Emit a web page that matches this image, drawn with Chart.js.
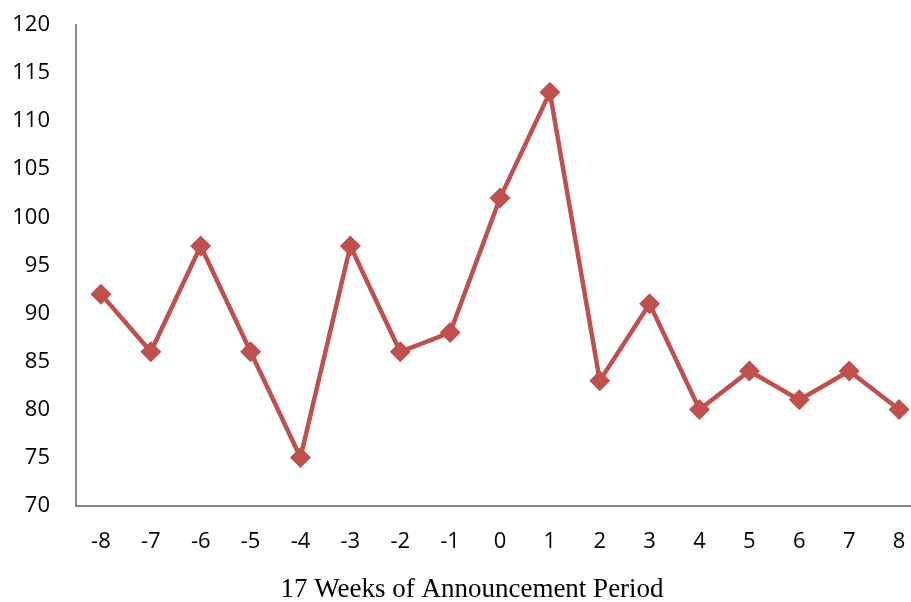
<!DOCTYPE html>
<html>
<head>
<meta charset="utf-8">
<script src="https://cdn.jsdelivr.net/npm/chart.js@4"></script>
<style>
  html, body { margin: 0; padding: 0; background: #fff; overflow: hidden; }
  #wrap { width: 911px; height: 602px; overflow: hidden; }
</style>
</head>
<body>
<div id="wrap"><canvas id="c" width="940" height="602"></canvas></div>
<script>
const weeks = ['-8','-7','-6','-5','-4','-3','-2','-1','0','1','2','3','4','5','6','7','8'];
const values = [92, 86, 97, 86, 75, 97, 86, 88, 102, 113, 83, 91, 80, 84, 81, 84, 80];
const yTicks = [70, 75, 80, 85, 90, 95, 100, 105, 110, 115, 120];
const xTitle = '17 Weeks of Announcement Period';

const red = '#C0504D';
const axisGray = '#868686';

// Axis title drawn below the tick labels
const bottomTitle = {
  id: 'bottomTitle',
  afterDraw(chart) {
    const { ctx } = chart;
    ctx.save();
    ctx.fillStyle = '#000';
    ctx.font = '27px "Liberation Serif"';
    ctx.textAlign = 'center';
    ctx.textBaseline = 'middle';
    ctx.fillText(xTitle, 472, 590);
    ctx.restore();
  }
};

new Chart(document.getElementById('c'), {
  type: 'line',
  data: {
    labels: weeks,
    datasets: [{
      data: values,
      borderColor: red,
      backgroundColor: red,
      borderWidth: 4.5,
      pointStyle: 'rectRot',
      pointRadius: 10.5,
      pointHoverRadius: 10.5,
      pointBorderWidth: 0,
      tension: 0
    }]
  },
  options: {
    responsive: false,
    animation: false,
    layout: { autoPadding: false, padding: { top: 25, left: 0, right: 16, bottom: 24 } },
    plugins: { legend: { display: false }, tooltip: { enabled: false } },
    scales: {
      x: {
        offset: true,
        grid: { display: false, drawTicks: false },
        border: { color: axisGray, width: 2 },
        ticks: { color: '#000', font: { family: 'Open Sans', size: 22 }, padding: 23, maxRotation: 0 }
      },
      y: {
        min: 70,
        max: 120,
        afterBuildTicks: (axis) => { axis.ticks = yTicks.map(v => ({ value: v })); },
        afterFit: (axis) => { axis.width = 76; },
        // invisible tick marks keep the labels clear of the axis line
        grid: { display: true, drawOnChartArea: false, drawTicks: true, tickLength: 26, color: 'rgba(0,0,0,0)' },
        border: { color: axisGray, width: 2 },
        ticks: { color: '#000', font: { family: 'Open Sans', size: 22 }, padding: 0 }
      }
    }
  },
  plugins: [bottomTitle]
});
</script>
</body>
</html>
